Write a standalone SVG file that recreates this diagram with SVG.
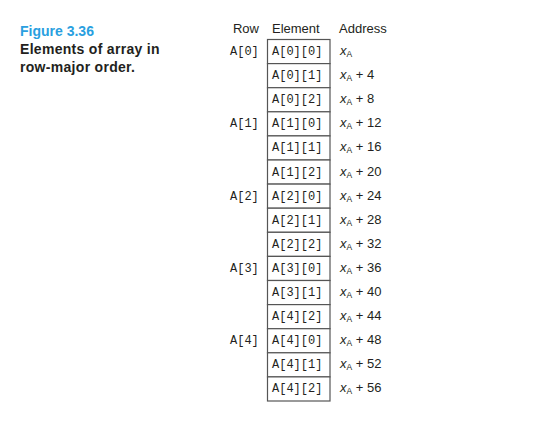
<svg xmlns="http://www.w3.org/2000/svg" width="538" height="421" viewBox="0 0 538 421">
<style>
.t{font-family:"Liberation Sans",Arial,sans-serif;}
.fig{font-size:14px;font-weight:bold;fill:#2a9fe0;}
.cap{font-size:14px;font-weight:bold;fill:#231f20;letter-spacing:0.3px;}
.hd{font-size:13px;fill:#231f20;}
.m{font-family:"Liberation Mono","Courier New",monospace;font-size:12px;fill:#231f20;}
.ad{font-family:"Liberation Sans",Arial,sans-serif;font-size:13px;fill:#231f20;}
.x{font-style:italic;}
.sub{font-size:8.5px;}
.cell{fill:#fff;stroke:#555;stroke-width:1.2;}
</style>
<rect width="538" height="421" fill="#fff"/>
<g id="caption">
<text class="t fig" x="20" y="36">Figure 3.36</text>
<text class="t cap" x="20" y="53.5">Elements of array in</text>
<text class="t cap" x="20" y="71.5">row-major order.</text>
</g>
<g id="headers">
<text class="t hd" x="259" y="33" text-anchor="end">Row</text>
<text class="t hd" x="272" y="33">Element</text>
<text class="t hd" x="339" y="33">Address</text>
</g>
<g id="rows">
<text class="m" x="230" y="55">A[0]</text>
<text class="m" x="230" y="127.3">A[1]</text>
<text class="m" x="230" y="199.6">A[2]</text>
<text class="m" x="230" y="271.9">A[3]</text>
<text class="m" x="230" y="344.2">A[4]</text>
</g>
<g id="elements">
<g id="e0"><rect class="cell" x="267.5" y="39.5" width="62.5" height="24.1"/><text class="m" x="272" y="55">A[0][0]</text></g>
<g id="e1"><rect class="cell" x="267.5" y="63.6" width="62.5" height="24.1"/><text class="m" x="272" y="79.1">A[0][1]</text></g>
<g id="e2"><rect class="cell" x="267.5" y="87.7" width="62.5" height="24.1"/><text class="m" x="272" y="103.2">A[0][2]</text></g>
<g id="e3"><rect class="cell" x="267.5" y="111.8" width="62.5" height="24.1"/><text class="m" x="272" y="127.3">A[1][0]</text></g>
<g id="e4"><rect class="cell" x="267.5" y="135.9" width="62.5" height="24.1"/><text class="m" x="272" y="151.4">A[1][1]</text></g>
<g id="e5"><rect class="cell" x="267.5" y="160" width="62.5" height="24.1"/><text class="m" x="272" y="175.5">A[1][2]</text></g>
<g id="e6"><rect class="cell" x="267.5" y="184.1" width="62.5" height="24.1"/><text class="m" x="272" y="199.6">A[2][0]</text></g>
<g id="e7"><rect class="cell" x="267.5" y="208.2" width="62.5" height="24.1"/><text class="m" x="272" y="223.7">A[2][1]</text></g>
<g id="e8"><rect class="cell" x="267.5" y="232.3" width="62.5" height="24.1"/><text class="m" x="272" y="247.8">A[2][2]</text></g>
<g id="e9"><rect class="cell" x="267.5" y="256.4" width="62.5" height="24.1"/><text class="m" x="272" y="271.9">A[3][0]</text></g>
<g id="e10"><rect class="cell" x="267.5" y="280.5" width="62.5" height="24.1"/><text class="m" x="272" y="296">A[3][1]</text></g>
<g id="e11"><rect class="cell" x="267.5" y="304.6" width="62.5" height="24.1"/><text class="m" x="272" y="320.1">A[4][2]</text></g>
<g id="e12"><rect class="cell" x="267.5" y="328.7" width="62.5" height="24.1"/><text class="m" x="272" y="344.2">A[4][0]</text></g>
<g id="e13"><rect class="cell" x="267.5" y="352.8" width="62.5" height="24.1"/><text class="m" x="272" y="368.3">A[4][1]</text></g>
<g id="e14"><rect class="cell" x="267.5" y="376.9" width="62.5" height="24.1"/><text class="m" x="272" y="392.4">A[4][2]</text></g>
</g>
<g id="addresses">
<text class="ad" x="340" y="55"><tspan class="x">x</tspan><tspan class="sub" dy="2">A</tspan></text>
<text class="ad" x="340" y="79.1"><tspan class="x">x</tspan><tspan class="sub" dy="2">A</tspan><tspan dy="-2"> + 4</tspan></text>
<text class="ad" x="340" y="103.2"><tspan class="x">x</tspan><tspan class="sub" dy="2">A</tspan><tspan dy="-2"> + 8</tspan></text>
<text class="ad" x="340" y="127.3"><tspan class="x">x</tspan><tspan class="sub" dy="2">A</tspan><tspan dy="-2"> + 12</tspan></text>
<text class="ad" x="340" y="151.4"><tspan class="x">x</tspan><tspan class="sub" dy="2">A</tspan><tspan dy="-2"> + 16</tspan></text>
<text class="ad" x="340" y="175.5"><tspan class="x">x</tspan><tspan class="sub" dy="2">A</tspan><tspan dy="-2"> + 20</tspan></text>
<text class="ad" x="340" y="199.6"><tspan class="x">x</tspan><tspan class="sub" dy="2">A</tspan><tspan dy="-2"> + 24</tspan></text>
<text class="ad" x="340" y="223.7"><tspan class="x">x</tspan><tspan class="sub" dy="2">A</tspan><tspan dy="-2"> + 28</tspan></text>
<text class="ad" x="340" y="247.8"><tspan class="x">x</tspan><tspan class="sub" dy="2">A</tspan><tspan dy="-2"> + 32</tspan></text>
<text class="ad" x="340" y="271.9"><tspan class="x">x</tspan><tspan class="sub" dy="2">A</tspan><tspan dy="-2"> + 36</tspan></text>
<text class="ad" x="340" y="296"><tspan class="x">x</tspan><tspan class="sub" dy="2">A</tspan><tspan dy="-2"> + 40</tspan></text>
<text class="ad" x="340" y="320.1"><tspan class="x">x</tspan><tspan class="sub" dy="2">A</tspan><tspan dy="-2"> + 44</tspan></text>
<text class="ad" x="340" y="344.2"><tspan class="x">x</tspan><tspan class="sub" dy="2">A</tspan><tspan dy="-2"> + 48</tspan></text>
<text class="ad" x="340" y="368.3"><tspan class="x">x</tspan><tspan class="sub" dy="2">A</tspan><tspan dy="-2"> + 52</tspan></text>
<text class="ad" x="340" y="392.4"><tspan class="x">x</tspan><tspan class="sub" dy="2">A</tspan><tspan dy="-2"> + 56</tspan></text>
</g>
</svg>
